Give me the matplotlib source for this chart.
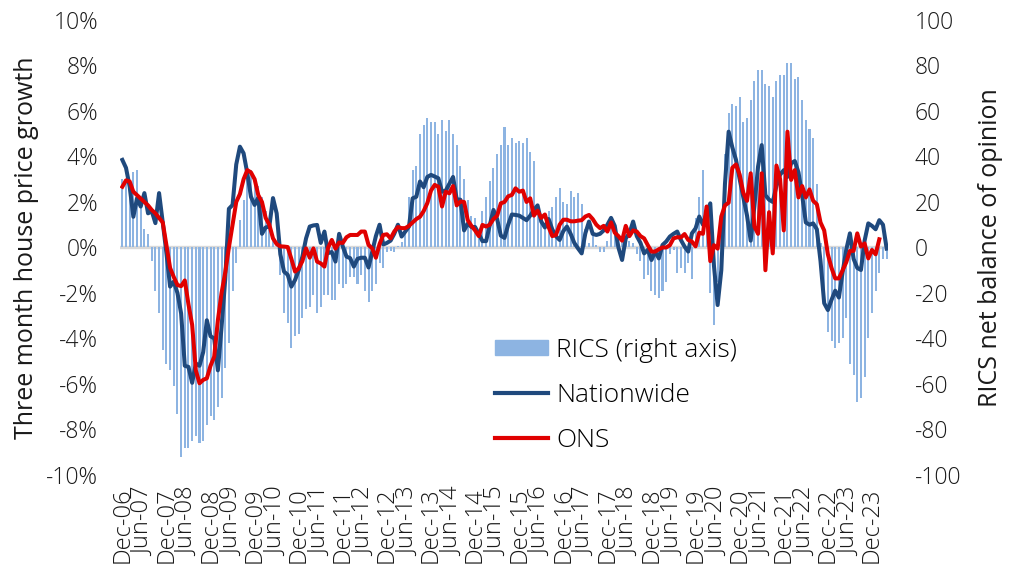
import numpy as np
import matplotlib
matplotlib.use("Agg")
import matplotlib.pyplot as plt
from matplotlib.patches import Patch
from matplotlib.lines import Line2D

plt.rcParams['font.family'] = ['Open Sans', 'DejaVu Sans']
plt.rcParams['font.weight'] = 'light'

# monthly data, Dec-06 onwards
rics = [30, 30, 28, 33, 34, 22, 8, 6, -6, -19, -29, -45,
        -51, -54, -61, -73, -92, -88, -88, -85, -83, -86, -85, -78,
        -74, -76, -70, -66, -53, -42, -19, -7, 12, 21, 33, 34,
        28, 27, 22, 16, 10, 5, 1, -12, -29, -33, -44, -39,
        -38, -31, -27, -26, -21, -29, -26, -21, -21, -23, -23, -16,
        -18, -16, -13, -13, -16, -12, -19, -24, -19, -16, -7, -9,
        -2, -1.5, -2, 0.5, 2.5, 6, 22, 34, 36, 50, 54, 57,
        55, 55, 50, 56, 51, 56, 50, 45, 36, 30, 21, 14,
        13, 6, 16, 22, 29, 35, 41, 45, 53, 45, 48, 46,
        47, 46, 48, 42, 38, 16, 14, 10, 16, 18, 22, 26,
        20, 19, 25, 22, 24, 19, 8, 2, 6, 1, -2, -2,
        3, 9, 7, 3, 5, 6, 3, 2, -3, -6, -14, -12,
        -19, -21, -22, -19, -15, -3, -1, -11, -9, -11, -7, -14,
        13, 22, 34, 10, -20, -34, -15, 12, 41, 59, 63, 62,
        66, 55, 57, 65, 73, 78, 78, 72, 71, 66, 73, 76,
        76, 81, 81, 74, 75, 65, 56, 52, 48, 28, 2, -25,
        -37, -41, -44, -42, -40, -31, -51, -56, -68, -66, -57, -40,
        -29, -19, -11, -5, -5]

nationwide = [3.85, 3.5, 2.67, 1.35, 2.17, 1.8, 2.39, 1.5, 1.6, 1.07, 2.39, 1.1,
              -0.25, -1.72, -1.5, -2.0, -2.9, -5.2, -5.25, -5.95, -5.1, -5.2, -4.6, -3.2,
              -3.9, -4.0, -5.4, -3.5, -1.4, 1.7, 1.87, 3.65, 4.43, 4.14, 3.27, 2.23,
              1.87, 2.2, 0.6, 0.88, 0.92, 2.17, 1.5, -0.3, -1.06, -1.2, -1.72, -1.43,
              -1.0, -0.4, 0.4, 0.92, 0.97, 0.99, 0.2, 0.7, -0.25, -0.2, -0.62, 0.6,
              0.04, -0.4, -0.47, -0.84, -0.5, -0.45, -0.45, -0.88, -0.2, 0.5, 1.0, 0.13,
              0.2, 0.3, 0.6, 1.0, 0.48, 0.7, 0.92, 2.16, 2.23, 2.9, 2.65, 3.1,
              3.19, 3.12, 3.04, 2.45, 2.5, 2.8, 3.1, 2.12, 2.1, 0.75, 1.05, 0.9,
              0.9, 0.6, 0.28, 0.28, 0.99, 1.65, 1.25, 0.52, 0.42, 1.0, 1.45, 1.43,
              1.4, 1.3, 1.2, 1.4, 1.65, 1.85, 1.14, 0.88, 1.25, 0.8, 0.5, 0.33,
              0.72, 0.92, 0.6, 0.2, -0.04, -0.26, 0.62, 1.14, 0.6, 0.55, 0.6, 0.75,
              1.0, 1.3, 0.95, 0.0, -0.55, 0.4, 0.62, 1.14, 0.5, 0.2, -0.26, -0.1,
              -0.55, -0.18, -0.48, 0.11, 0.26, 0.48, 0.6, 0.7, 0.33, 0.04, -0.18, 0.62,
              0.84, 1.36, 1.0, 1.5, 1.94, -0.8, -2.53, -1.0, 2.8, 5.09, 4.4, 3.85,
              3.0, 2.2, 1.4, 0.3, 1.8, 3.55, 4.5, 2.3, 2.1, 2.0, 2.7, 3.2,
              3.4, 3.1, 3.7, 3.8, 3.3, 2.3, 1.1, 1.0, 1.06, 0.8, -0.6, -2.45,
              -2.75, -2.3, -1.9, -2.2, -1.1, -0.1, 0.62, -0.5, -0.9, -0.99, 0.3, 1.06,
              0.95, 0.8, 1.2, 1.0, -0.05]

ons = [2.67, 2.95, 2.9, 2.45, 2.3, 2.15, 2.0, 1.85, 1.65, 1.5, 1.3, 1.1,
       0.1, -0.9, -1.3, -1.65, -1.7, -1.45, -2.5, -3.4, -5.4, -5.97, -5.82, -5.75,
       -5.2, -4.8, -3.2, -2.0, -1.1, 0.0, 1.0, 2.0, 2.35, 3.0, 3.4, 3.3,
       3.0, 2.3, 2.0, 1.3, 1.0, 0.4, 0.15, 0.05, 0.04, 0.02, -0.5, -1.06,
       -0.92, -0.6, -0.04, -0.45, -0.04, -0.62, -0.7, -0.84, 0.0, 0.33, -0.05, 0.22,
       0.2, 0.45, 0.55, 0.55, 0.55, 0.7, 0.7, 0.11, -0.04, -0.45, 0.15, 0.55,
       0.58, 0.4, 0.7, 0.9, 0.85, 0.85, 0.95, 1.1, 1.25, 1.35, 1.6, 1.95,
       2.5, 2.75, 2.67, 1.8, 2.45, 2.38, 2.7, 1.85, 2.02, 2.0, 1.2, 0.95,
       0.75, 0.5, 0.99, 0.92, 1.0, 1.25, 1.4, 1.94, 2.0, 2.25, 2.31, 2.6,
       2.45, 2.5, 2.0, 2.16, 1.4, 1.62, 1.3, 1.45, 0.9, 0.5, 0.55, 1.0,
       1.22, 1.22, 1.15, 1.15, 1.18, 1.2, 1.36, 1.43, 1.25, 1.0, 0.85, 0.95,
       0.7, 1.1, 0.65, 0.5, 0.3, 0.95, 0.5, 0.75, 0.7, 0.5, 0.4, 0.1,
       -0.18, -0.18, -0.08, 0.0, 0.0, 0.1, 0.4, 0.45, 0.44, 0.59, 0.33, 0.26,
       0.05, 0.65, 0.6, 1.8, -0.6, 0.1, -0.05, 1.36, 1.85, 1.97, 3.5, 3.65,
       3.2, 2.4, 2.05, 3.26, 0.92, 0.6, 3.26, -1.0, 1.55, -0.26, 3.6, 3.0,
       0.75, 5.09, 2.97, 3.4, 2.2, 2.7, 2.2, 2.55, 2.05, 1.9, 1.1, 0.75,
       -0.3, -0.9, -1.36, -1.36, -1.0, -0.65, -0.15, -0.15, 0.62, 0.04, 0.18, -0.48,
       -0.11, -0.3, 0.36]

tick_labels = []
for yr in range(6, 24):
    tick_labels.append("Dec-%02d" % yr)
    tick_labels.append("Jun-%02d" % (yr + 1))
tick_labels = tick_labels[:35]

left_ticks = list(range(-10, 11, 2))
right_ticks = list(range(-100, 101, 20))

txt = "#1a1a1a"

fig = plt.figure(figsize=(10.1, 5.77), dpi=100)
ax = fig.add_axes([0.1193, 0.1768, 0.7604, 0.7886])
ax2 = ax.twinx()

x_r = np.arange(len(rics))
ax2.bar(x_r, rics, width=0.55, color="#8db4e2", zorder=2)
ax2.axhline(0, color="#d9d9d9", lw=2.4, zorder=1)
ax2.set_ylim(-100, 100)
ax2.set_yticks(right_ticks)
ax2.set_yticklabels([str(v) for v in right_ticks])

ax.set_zorder(ax2.get_zorder() + 1)
ax.patch.set_visible(False)
ax.plot(np.arange(len(nationwide)), nationwide, color="#1f497d", lw=2.9, zorder=3)
ax.plot(np.arange(len(ons)), ons, color="#e00000", lw=2.9, zorder=4)
ax.set_ylim(-10, 10)
ax.set_yticks(left_ticks)
ax.set_yticklabels(["%d%%" % v for v in left_ticks])
ax.set_xlim(-0.5, len(rics) - 0.5)
ax.set_xticks(np.arange(0, 6 * len(tick_labels), 6))
ax.set_xticklabels(tick_labels, rotation=90)

for a in (ax, ax2):
    for s in a.spines.values():
        s.set_visible(False)
    a.tick_params(length=0, labelsize=16.5, colors=txt)
ax.tick_params(axis="y", pad=16)
ax2.tick_params(axis="y", pad=19)
ax.tick_params(axis="x", pad=9, labelsize=17)

ax.set_ylabel("Three month house price growth", fontsize=18, color=txt, labelpad=5)
ax2.set_ylabel("RICS net balance of opinion", fontsize=18, color=txt, labelpad=12)

handles = [Patch(color="#8db4e2"),
           Line2D([0], [0], color="#1f497d", lw=3),
           Line2D([0], [0], color="#e00000", lw=3)]
fig.legend(handles, ["RICS (right axis)", "Nationwide", "ONS"], loc="center",
           bbox_to_anchor=(0.61, 0.315), frameon=False, fontsize=19,
           handlelength=2.0, handleheight=0.5, labelspacing=0.75, handletextpad=0.3)

fig.savefig("out.png", dpi=100)
